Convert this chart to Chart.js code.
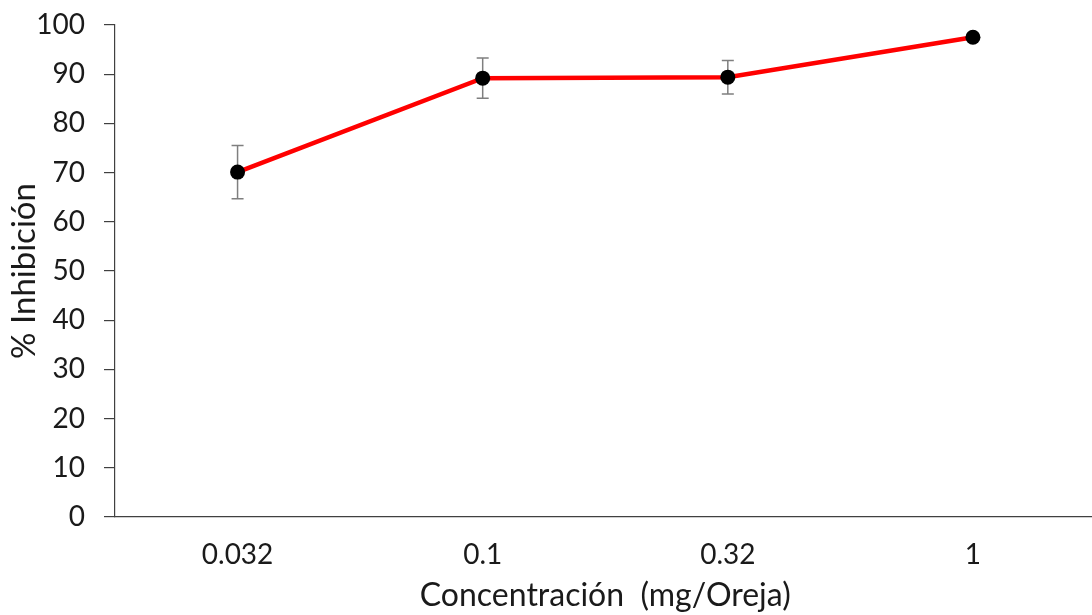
<!DOCTYPE html>
<html><head><meta charset="utf-8">
<script src="https://cdn.jsdelivr.net/npm/chart.js@4"></script>
<style>
html,body{margin:0;padding:0;overflow:hidden;background:#fff;}
#wrap{position:relative;width:1103px;height:615px;}
</style>
</head><body>
<div id="wrap"><canvas id="c"></canvas></div>
<script>
const categories = ['0.032', '0.1', '0.32', '1'];
const inhibition = [70.1, 89.2, 89.4, 97.5];
const errorSD = [5.4, 4.1, 3.4, 0];
const xTitle = 'Concentración  (mg/Oreja)';
const yTitle = '% Inhibición';
const yMin = 0, yMax = 100, yStep = 10;

const FONT = 'Lato, "Open Sans", sans-serif';
const TEXT = '#1a1a1a';
const AXIS = '#404040';

const errorBars = {
  id: 'errorBars',
  beforeDatasetsDraw(chart) {
    const {ctx, scales: {x, y}} = chart;
    ctx.save();
    ctx.strokeStyle = '#7f7f7f';
    ctx.lineWidth = 1.5;
    inhibition.forEach((v, i) => {
      const e = errorSD[i];
      if (!e) return;
      const px = x.getPixelForValue(i);
      const yt = y.getPixelForValue(v + e);
      const yb = y.getPixelForValue(v - e);
      ctx.beginPath();
      ctx.moveTo(px, yt); ctx.lineTo(px, yb);
      ctx.moveTo(px - 6, yt); ctx.lineTo(px + 6, yt);
      ctx.moveTo(px - 6, yb); ctx.lineTo(px + 6, yb);
      ctx.stroke();
    });
    ctx.restore();
  }
};

new Chart(document.getElementById('c'), {
  type: 'line',
  data: {
    labels: categories,
    datasets: [{
      data: inhibition,
      borderColor: '#ff0000',
      borderWidth: 4.5,
      pointBackgroundColor: '#000',
      pointBorderColor: '#000',
      pointRadius: 7.5,
      pointBorderWidth: 0,
      tension: 0,
      fill: false
    }]
  },
  options: {
    responsive: true,
    maintainAspectRatio: false,
    animation: false,
    events: [],
    layout: {padding: {top: 25, right: 0, left: 0, bottom: 0}},
    plugins: {legend: {display: false}, tooltip: {enabled: false}},
    scales: {
      x: {
        type: 'category',
        offset: true,
        grid: {display: true, drawOnChartArea: false, drawTicks: false},
        border: {display: true, color: AXIS, width: 1.2},
        ticks: {color: TEXT, font: {family: FONT, size: 28}, padding: 21, maxRotation: 0},
        title: {display: true, text: xTitle, color: TEXT, font: {family: FONT, size: 32}, padding: {top: 0, bottom: 0}},
        afterFit(s) { s.height = 98; s.paddingLeft = 0; s.paddingRight = 0; }
      },
      y: {
        min: yMin, max: yMax,
        grid: {display: true, drawOnChartArea: false, drawTicks: true, tickLength: 11, color: AXIS, lineWidth: 1.2},
        border: {display: true, color: AXIS, width: 1.2},
        ticks: {stepSize: yStep, color: TEXT, font: {family: FONT, size: 28}, padding: 19},
        title: {display: true, text: yTitle, color: TEXT, font: {family: FONT, size: 33}, padding: {top: 5, bottom: 0}},
        afterFit(s) { s.width = 115; s.paddingTop = 0; s.paddingBottom = 0; }
      }
    }
  },
  plugins: [errorBars]
});
</script>
</body></html>
